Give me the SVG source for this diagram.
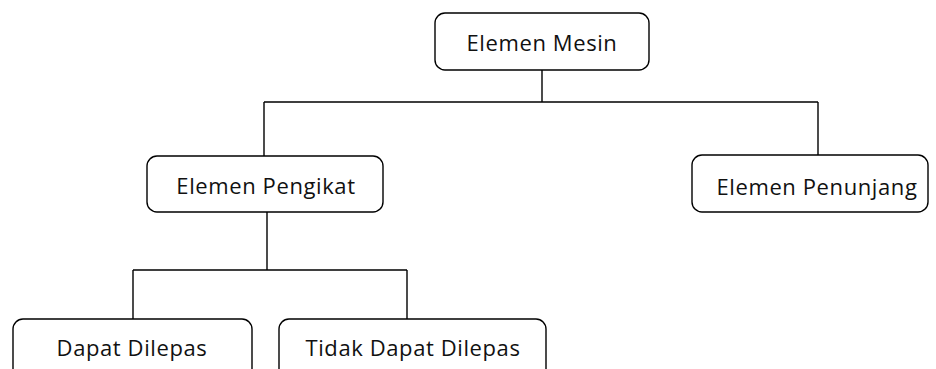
<svg xmlns="http://www.w3.org/2000/svg" width="936" height="369" viewBox="0 0 936 369">
<style>
.box{fill:#fff;stroke:#000;stroke-width:1.4}
.lbl{font-family:"Open Sans","Noto Sans",sans-serif;font-size:22px;letter-spacing:0.6px;fill:#111;text-anchor:middle}
.ln{stroke:#000;stroke-width:1.4;fill:none}
</style>
<rect width="936" height="369" fill="#fff"/>
<g id="connectors">
<path class="ln" d="M542 70V102M264 102H818M264 102V156M818 102V155"/>
<path class="ln" d="M267 212V270M133 270H407M133 270V319M407 270V319"/>
</g>
<g id="n1"><rect class="box" x="435" y="13" width="214" height="57" rx="10"/><text class="lbl" x="542" y="51">Elemen Mesin</text></g>
<g id="n2"><rect class="box" x="147" y="156" width="236" height="56" rx="10"/><text class="lbl" x="266" y="194">Elemen Pengikat</text></g>
<g id="n3"><rect class="box" x="692" y="155" width="236" height="57" rx="10"/><text class="lbl" x="817" y="195">Elemen Penunjang</text></g>
<g id="n4"><rect class="box" x="13" y="319" width="239" height="70" rx="10"/><text class="lbl" x="132" y="356">Dapat Dilepas</text></g>
<g id="n5"><rect class="box" x="279" y="319" width="267" height="70" rx="10"/><text class="lbl" x="413" y="356">Tidak Dapat Dilepas</text></g>
</svg>
